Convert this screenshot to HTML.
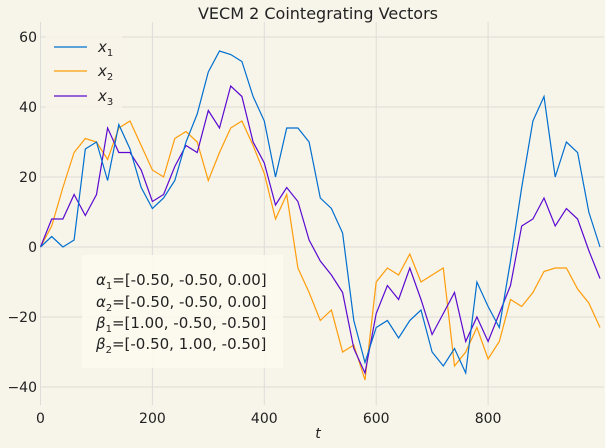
<!DOCTYPE html>
<html><head><meta charset="utf-8"><style>
body{margin:0;background:#f7f4e9;}
svg{display:block;font-family:"DejaVu Sans","Liberation Sans",sans-serif;}
</style></head><body>
<svg id="chart" width="605" height="448">
<rect x="0" y="0" width="605" height="448" fill="#f7f4e9"/>
<text x="318" y="19" text-anchor="middle" font-size="16" fill="#222">VECM 2 Cointegrating Vectors</text>
<g id="grid"></g><g id="ticks"></g><g id="series"></g>
<text x="318" y="438" text-anchor="middle" font-size="14" font-style="italic" fill="#222">t</text>
<g>
 <rect x="46" y="32" width="76" height="78" fill="#f7f4e9" opacity="0.8"/>
 <g><line x1="54" y1="47" x2="87" y2="47" stroke="#006fd0" stroke-width="1.3"/><text x="98" y="52" font-size="15" font-style="italic" fill="#222">x<tspan font-size="10" dy="4" font-style="normal">1</tspan></text></g>
 <g><line x1="54" y1="71" x2="87" y2="71" stroke="#ff9d0a" stroke-width="1.3"/><text x="98" y="76" font-size="15" font-style="italic" fill="#222">x<tspan font-size="10" dy="4" font-style="normal">2</tspan></text></g>
 <g><line x1="54" y1="96" x2="87" y2="96" stroke="#5a0ad0" stroke-width="1.3"/><text x="98" y="101" font-size="15" font-style="italic" fill="#222">x<tspan font-size="10" dy="4" font-style="normal">3</tspan></text></g>
</g>
<g>
 <rect x="82" y="255" width="201" height="113" fill="#fcfaee" opacity="0.9"/>
 <text font-size="15" fill="#222">
  <tspan x="96" y="285"><tspan font-style="italic">α</tspan><tspan font-size="10" dy="4">1</tspan><tspan dy="-4">=[-0.50, -0.50, 0.00]</tspan></tspan>
  <tspan x="96" y="307"><tspan font-style="italic">α</tspan><tspan font-size="10" dy="4">2</tspan><tspan dy="-4">=[-0.50, -0.50, 0.00]</tspan></tspan>
  <tspan x="96" y="328"><tspan font-style="italic">β</tspan><tspan font-size="10" dy="4">1</tspan><tspan dy="-4">=[1.00, -0.50, -0.50]</tspan></tspan>
  <tspan x="96" y="349"><tspan font-style="italic">β</tspan><tspan font-size="10" dy="4">2</tspan><tspan dy="-4">=[-0.50, 1.00, -0.50]</tspan></tspan>
 </text>
</g>
</svg>
<script>
const tValues=[0,20,40,60,80,100,120,140,160,180,200,220,240,260,280,300,320,340,360,380,400,420,440,460,480,500,520,540,560,580,600,620,640,660,680,700,720,740,760,780,800,820,840,860,880,900,920,940,960,980,1000];
const x1Values=[0,3,0,2,28,30,19,35,28,17,11,14,19,30,38,50,56,55,53,43,36,20,34,34,30,14,11,4,-21,-33,-23,-21,-26,-21,-18,-30,-34,-29,-36,-10,-17,-23,-4,17,36,43,20,30,27,10,0];
const x2Values=[0,6,17,27,31,30,25,34,36,29,22,20,31,33,30,19,27,34,36,29,21,8,15,-6,-13,-21,-18,-30,-28,-38,-10,-6,-8,-2,-10,-8,-6,-34,-30,-23,-32,-27,-15,-17,-13,-7,-6,-6,-12,-16,-23];
const x3Values=[0,8,8,15,9,15,34,27,27,22,13,15,23,29,27,39,34,46,43,30,24,12,17,13,2,-4,-8,-13,-29,-36,-19,-11,-15,-6,-15,-25,-19,-13,-27,-20,-27,-19,-11,6,8,14,6,11,8,-1,-9];
const xTicks=[0,200,400,600,800];
const yTicks=[-40,-20,0,20,40,60];
const NS="http://www.w3.org/2000/svg";
function xs(t){return 40.5+t*0.5595;}
function ys(v){return 247-v*3.5;}
const grid=document.getElementById('grid'),ticks=document.getElementById('ticks'),series=document.getElementById('series');
xTicks.forEach(t=>{
 const l=document.createElementNS(NS,'line');
 l.setAttribute('x1',xs(t));l.setAttribute('x2',xs(t));l.setAttribute('y1',22);l.setAttribute('y2',405);
 l.setAttribute('stroke','#dedcd8');l.setAttribute('stroke-width','1');
 
 
 grid.appendChild(l);
 const tx=document.createElementNS(NS,'text');
 tx.setAttribute('x',xs(t));tx.setAttribute('y',423);tx.setAttribute('text-anchor','middle');tx.setAttribute('font-size','14');tx.setAttribute('fill','#222');
 tx.textContent=t;
 
 
 ticks.appendChild(tx);
});
yTicks.forEach(v=>{
 const l=document.createElementNS(NS,'line');
 l.setAttribute('x1',40);l.setAttribute('x2',604);l.setAttribute('y1',ys(v));l.setAttribute('y2',ys(v));
 l.setAttribute('stroke','#dedcd8');l.setAttribute('stroke-width','1');
 
 
 grid.appendChild(l);
 const tx=document.createElementNS(NS,'text');
 tx.setAttribute('x',37);tx.setAttribute('y',ys(v)+5);tx.setAttribute('text-anchor','end');tx.setAttribute('font-size','14');tx.setAttribute('fill','#222');
 tx.textContent=v<0?'\u2212'+(-v):v;
 
 
 ticks.appendChild(tx);
});
[[x2Values,'#ff9d0a','series-x2'],[x3Values,'#5a0ad0','series-x3'],[x1Values,'#006fd0','series-x1']].forEach(([vals,c,n])=>{
 const p=document.createElementNS(NS,'polyline');
 p.setAttribute('points',vals.map((v,i)=>xs(tValues[i]).toFixed(1)+','+ys(v).toFixed(1)).join(' '));
 p.setAttribute('fill','none');p.setAttribute('stroke',c);p.setAttribute('stroke-width','1.2');
 
 
 series.appendChild(p);
});
</script>
</body></html>
